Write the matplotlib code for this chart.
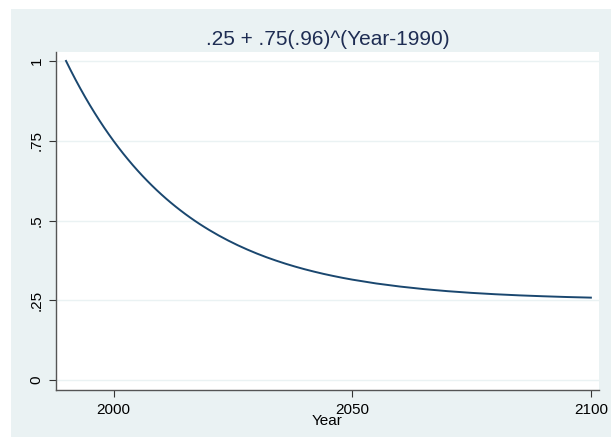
import numpy as np
import matplotlib.pyplot as plt
from matplotlib.patches import Rectangle

# .25 + .75(.96)^(Year-1990): yearly to 2020, every 2 years to 2050, then every 5
years = [1990, 1991, 1992, 1993, 1994, 1995, 1996, 1997, 1998, 1999,
         2000, 2001, 2002, 2003, 2004, 2005, 2006, 2007, 2008, 2009,
         2010, 2011, 2012, 2013, 2014, 2015, 2016, 2017, 2018, 2019,
         2020, 2022, 2024, 2026, 2028, 2030, 2032, 2034, 2036, 2038,
         2040, 2042, 2044, 2046, 2048, 2050,
         2055, 2060, 2065, 2070, 2075, 2080, 2085, 2090, 2095, 2100]
values = [1.0, 0.97, 0.9412, 0.9136, 0.8870, 0.8615, 0.8371, 0.8136, 0.7910, 0.7694,
          0.7486, 0.7287, 0.7095, 0.6912, 0.6735, 0.6566, 0.6403, 0.6247, 0.6097, 0.5953,
          0.5815, 0.5682, 0.5555, 0.5433, 0.5316, 0.5203, 0.5095, 0.4991, 0.4891, 0.4796,
          0.4704, 0.4531, 0.4372, 0.4225, 0.4090, 0.3965, 0.3850, 0.3745, 0.3647, 0.3557,
          0.3474, 0.3398, 0.3327, 0.3263, 0.3203, 0.3148,
          0.3028, 0.2931, 0.2851, 0.2786, 0.2733, 0.2690, 0.2655, 0.2627, 0.2603, 0.2584]

x_ticks = [2000, 2050, 2100]
y_ticks = [0, 0.25, 0.5, 0.75, 1]
y_labels = ['0', '.25', '.5', '.75', '1']

plt.rcParams['font.family'] = ['Liberation Sans', 'DejaVu Sans']

W, H = 611, 437
fig = plt.figure(figsize=(W / 100, H / 100), dpi=100, facecolor='white')

# graph region background
bg = '#EAF2F3'
fig.patches.append(Rectangle((11 / W, 0), 1 - 11 / W, 1 - 9 / H,
                             transform=fig.transFigure, facecolor=bg,
                             edgecolor='none', zorder=-10))

ax = fig.add_axes([56 / W, 1 - 390 / H, (599 - 56) / W, (390 - 52) / H])
ax.set_facecolor('white')

ax.plot(years, values, color='#1A476F', linewidth=1.4, zorder=3)

ax.set_xlim(1987.9, 2101.7)
ax.set_ylim(-0.031, 1.028)

ax.set_xticks(x_ticks)
ax.set_xticklabels([str(t) for t in x_ticks])
ax.set_yticks(y_ticks)
ax.set_yticklabels(y_labels, rotation=90, va='center')

for y in y_ticks:
    ax.axhline(y, color=bg, linewidth=1.0, zorder=1)

for side in ['top', 'right']:
    ax.spines[side].set_visible(False)
for side in ['left', 'bottom']:
    ax.spines[side].set_color('#555555')
    ax.spines[side].set_linewidth(1.0)

ax.tick_params(axis='both', direction='out', length=5, width=0.8,
               color='#333333', labelsize=11, labelcolor='black', pad=4)

ax.set_xlabel('Year', fontsize=11, labelpad=-2)
ax.set_title('.25 + .75(.96)^(Year-1990)', fontsize=15, color='#1E2D53', pad=5)

fig.savefig('out.png', dpi=100, facecolor=fig.get_facecolor())
